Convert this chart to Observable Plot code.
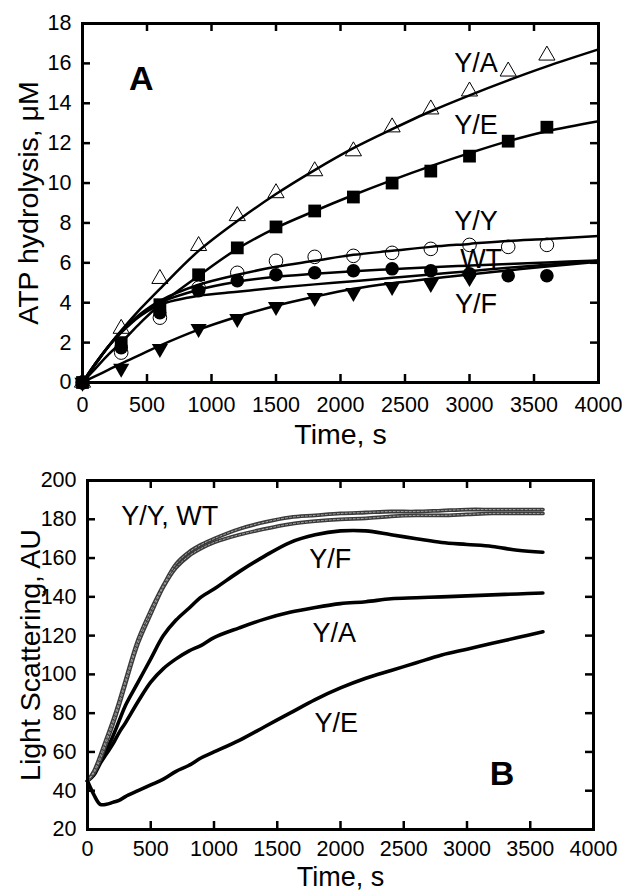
<!DOCTYPE html>
<html><head><meta charset="utf-8">
<script src="https://cdn.jsdelivr.net/npm/d3@7"></script>
<script src="https://cdn.jsdelivr.net/npm/@observablehq/plot@0.6"></script>
<style>body{margin:0;background:#fff;} #chart svg{display:block;}</style>
</head><body><div id="chart"></div>
<script>
// ---------- Panel A: ATP hydrolysis ----------
const timesA = [0, 300, 600, 900, 1200, 1500, 1800, 2100, 2400, 2700, 3000, 3300, 3600];
const pointsYA = [0, 2.7, 5.2, 6.85, 8.35, 9.5, 10.6, 11.6, 12.8, 13.7, 14.6, 15.6, 16.4];
const pointsYE = [0, 2.0, 3.9, 5.4, 6.75, 7.8, 8.6, 9.3, 10.0, 10.6, 11.35, 12.1, 12.8];
const pointsYY = [0, 1.5, 3.25, 4.75, 5.5, 6.1, 6.3, 6.35, 6.5, 6.7, 6.9, 6.8, 6.9];
const pointsWT = [0, 1.75, 3.5, 4.6, 5.1, 5.4, 5.5, 5.6, 5.7, 5.6, 5.45, 5.35, 5.35];
const timesYF = [0, 300, 600, 900, 1200, 1500, 1800, 2100, 2400, 2700, 3000];
const pointsYF = [0, 0.7, 1.7, 2.7, 3.2, 3.8, 4.25, 4.5, 4.8, 4.95, 5.25];

const fitTimes = [0, 100, 200, 300, 450, 600, 900, 1200, 1500, 1800, 2100, 2400, 2700, 3000, 3300, 3600, 4000];
const fitYA = [0, 0.9, 1.8, 2.6, 3.7, 4.7, 6.6, 8.1, 9.45, 10.65, 11.75, 12.7, 13.6, 14.4, 15.15, 15.85, 16.7];
const fitYE = [0, 0.7, 1.4, 2.0, 3.0, 3.9, 5.35, 6.7, 7.75, 8.6, 9.4, 10.15, 10.85, 11.5, 12.1, 12.6, 13.1];
const fitYY = [0, 0.95, 1.8, 2.55, 3.45, 4.1, 4.9, 5.4, 5.8, 6.1, 6.4, 6.6, 6.8, 6.95, 7.1, 7.2, 7.35];
const fitWT = [0, 0.95, 1.8, 2.55, 3.4, 4.0, 4.65, 5.05, 5.3, 5.45, 5.58, 5.68, 5.78, 5.86, 5.94, 6.02, 6.12];
const fitWT2 = [0, 0.95, 1.8, 2.5, 3.35, 3.9, 4.35, 4.55, 4.75, 4.92, 5.08, 5.25, 5.42, 5.58, 5.75, 5.9, 6.1];
const fitYF = [0, 0.32, 0.63, 0.95, 1.4, 1.85, 2.65, 3.3, 3.85, 4.3, 4.7, 4.98, 5.2, 5.42, 5.62, 5.82, 6.05];

const labelsA = ["Y/A", "Y/E", "Y/Y", "WT", "Y/F"];
const labelTimesA = [3050, 3050, 3050, 3090, 3050];
const labelValuesA = [16.0, 12.9, 8.1, 6.15, 3.9];

const xTicks = [0, 500, 1000, 1500, 2000, 2500, 3000, 3500, 4000];
const yTicksA = [0, 2, 4, 6, 8, 10, 12, 14, 16, 18];

// ---------- Panel B: light scattering ----------
const timesB = [0, 50, 100, 150, 200, 250, 300, 400, 500, 600, 700, 800, 900, 1000, 1200, 1400, 1600, 1800, 2000, 2200, 2400, 2600, 2800, 3000, 3200, 3400, 3600];
const traceYY = [45, 50, 58, 67, 76, 86, 97, 118, 133, 146, 157, 163, 167, 170, 175, 178.5, 181, 182, 183, 183.5, 184, 184, 184.5, 185, 185, 185, 185];
const traceWT = [45, 49, 56, 65, 74, 84, 95, 116, 131, 145, 155, 161, 165, 168, 172, 175, 177.5, 179, 180, 180.5, 181.5, 182, 182, 182.5, 183, 183, 183];
const traceYF = [45, 49, 55, 61, 68, 76, 84, 96, 108, 120, 128, 134, 140, 144, 153, 161, 168, 172, 174, 174, 172, 170, 168, 167, 166, 164, 163];
const traceYA = [45, 48, 54, 59, 64, 70, 75, 86, 96, 103, 108, 112, 115, 119, 124, 128.5, 132, 134.5, 136.5, 137.5, 139, 139.5, 140, 140.5, 141, 141.5, 142];
const traceYE = [45, 38, 33, 33, 34, 35, 37, 40, 43, 46, 50, 53, 57, 60, 66, 73, 80, 87, 93, 98, 102, 106, 110, 113, 116, 119, 122];

const labelsB = ["Y/Y, WT", "Y/F", "Y/A", "Y/E"];
const labelTimesB = [650, 1918, 1950, 1966];
const labelValuesB = [181.5, 159.5, 121, 75];
const yTicksB = [20, 40, 60, 80, 100, 120, 140, 160, 180, 200];

const font = "'Liberation Sans', Arial, Helvetica, sans-serif";
const TICK = 8;

const toRows = (ts, vs) => ts.map((t, i) => ({t, v: vs[i]}));

function frameMarks(yTicks, yTitle, titleDx, xTitleDy, xPad, titleSize, fw, fh) {
  return [
    Plot.tickX(xTicks, {x: d => d, insetTop: fh - TICK, stroke: "black", strokeWidth: 2.5}),
    Plot.tickX(xTicks, {x: d => d, insetBottom: fh - TICK, stroke: "black", strokeWidth: 2.5}),
    Plot.tickY(yTicks, {y: d => d, insetRight: fw - TICK, stroke: "black", strokeWidth: 2.5}),
    Plot.tickY(yTicks, {y: d => d, insetLeft: fw - TICK, stroke: "black", strokeWidth: 2.5}),
    Plot.frame({stroke: "black", strokeWidth: 3}),
    Plot.axisX({ticks: xTicks, tickSize: 0, tickPadding: xPad, fontSize: 21.5, tickFormat: d3.format("d"), label: null}),
    Plot.axisY({ticks: yTicks, tickSize: 0, tickPadding: 11, fontSize: 21.5, tickFormat: d3.format("d"), label: null}),
    Plot.text([yTitle], {frameAnchor: "left", rotate: -90, dx: titleDx, fontSize: 28.5, textAnchor: "middle", lineAnchor: "middle"}),
    Plot.text(["Time, s"], {frameAnchor: "bottom", dy: xTitleDy, fontSize: titleSize, textAnchor: "middle", lineAnchor: "middle"})
  ];
}

const fitLine = (vals) => Plot.line(toRows(fitTimes, vals), {x: "t", y: "v", curve: "catmull-rom", stroke: "black", strokeWidth: 2.5});

const plotA = Plot.plot({
  width: 622, height: 440,
  marginTop: 23, marginBottom: 58, marginLeft: 82, marginRight: 24,
  style: {fontFamily: font, color: "black", background: "white", overflow: "visible"},
  x: {domain: [0, 4000]},
  y: {domain: [0, 18]},
  marks: [
    fitLine(fitYA), fitLine(fitYE), fitLine(fitYY), fitLine(fitWT), fitLine(fitWT2), fitLine(fitYF),
    Plot.dot(toRows(timesA, pointsYA), {x: "t", y: "v", symbol: "triangle", r: 6, fill: "none", stroke: "black", strokeWidth: 1}),
    Plot.dot(toRows(timesA, pointsYE), {x: "t", y: "v", symbol: "square", r: 7.2, fill: "black", stroke: "none"}),
    Plot.dot(toRows(timesA, pointsYY), {x: "t", y: "v", symbol: "circle", r: 6.8, fill: "none", stroke: "black", strokeWidth: 1}),
    Plot.dot(toRows(timesA, pointsWT), {x: "t", y: "v", symbol: "circle", r: 6.8, fill: "black", stroke: "none"}),
    Plot.dot(toRows(timesYF, pointsYF), {x: "t", y: "v", symbol: "triangle", rotate: 180, r: 6, fill: "black", stroke: "none"}),
    Plot.text(labelsA, {x: (d, i) => labelTimesA[i], y: (d, i) => labelValuesA[i], text: d => d, fontSize: 27}),
    Plot.text(["A"], {x: 456, y: 15.2, fontSize: 34, fontWeight: "bold"}),
    ...frameMarks(yTicksA, "ATP hydrolysis, μM", -54, 52, 14, 28.5, 622 - 82 - 24, 440 - 23 - 58)
  ]
});

const traceLine = (vals, opts) => Plot.line(toRows(timesB, vals), {x: "t", y: "v", curve: "catmull-rom", ...opts});

const plotB = Plot.plot({
  width: 622, height: 451,
  marginTop: 40, marginBottom: 62, marginLeft: 87, marginRight: 29,
  style: {fontFamily: font, color: "black", background: "white", overflow: "visible"},
  x: {domain: [0, 4000]},
  y: {domain: [20, 200]},
  marks: [
    traceLine(traceYE, {stroke: "black", strokeWidth: 3.6}),
    traceLine(traceYA, {stroke: "black", strokeWidth: 3.6}),
    traceLine(traceYF, {stroke: "black", strokeWidth: 3.6}),
    traceLine(traceWT, {stroke: "#3a3a3a", strokeWidth: 3.8}),
    traceLine(traceYY, {stroke: "#3a3a3a", strokeWidth: 3.8}),
    traceLine(traceWT, {stroke: "#a8a8a8", strokeWidth: 1, strokeDasharray: "2,2"}),
    traceLine(traceYY, {stroke: "#a8a8a8", strokeWidth: 1, strokeDasharray: "2,2"}),
    Plot.text(labelsB, {x: (d, i) => labelTimesB[i], y: (d, i) => labelValuesB[i], text: d => d, fontSize: 27}),
    Plot.text(["B"], {x: 3276, y: 48.4, fontSize: 34, fontWeight: "bold"}),
    ...frameMarks(yTicksB, "Light Scattering, AU", -57, 48, 11, 27, 622 - 87 - 29, 451 - 40 - 62)
  ]
});

document.getElementById("chart").append(plotA, plotB);
</script>
</body></html>
